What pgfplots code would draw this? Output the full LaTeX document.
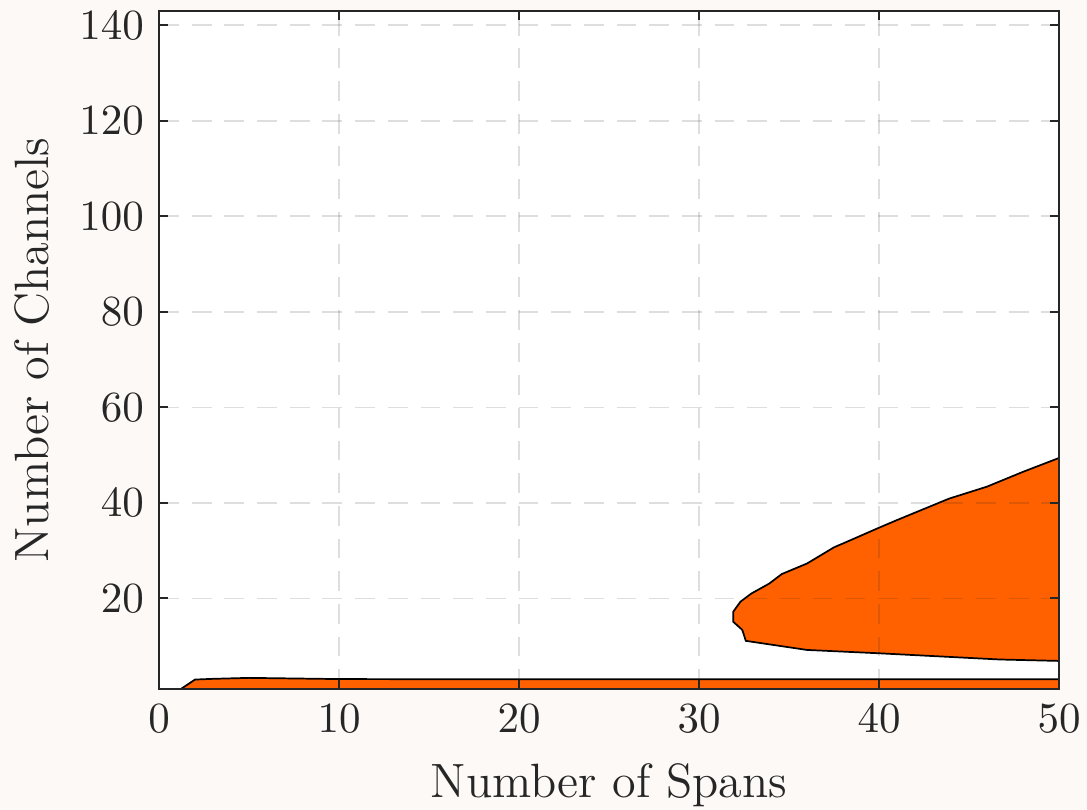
\documentclass[border=0pt]{standalone}
\usepackage{pgfplots}
\pgfplotsset{compat=1.18}
\definecolor{bg}{RGB}{253,249,247}
\definecolor{txt}{RGB}{38,38,38}
\definecolor{org}{RGB}{255,96,0}
\begin{document}
\begin{tikzpicture}
\fill[bg] (-37pt,-28.1pt) rectangle (215.8pt,160.26pt);
\begin{axis}[
  scale only axis, width=209.3pt, height=157.7pt,
  xmin=0, xmax=50, ymin=1, ymax=143,
  xtick={0,10,...,50}, ytick={20,40,...,140},
  axis on top,
  axis background/.style={fill=white},
  axis line style={color=txt, line width=0.5pt},
  tick style={color=txt, line width=0.5pt},
  tick align=inside,
  major tick length=2.1pt,
  grid=major,
  major grid style={dash pattern=on 4.6pt off 3pt, color=txt, opacity=0.15, line width=0.4pt},
  every tick label/.append style={font=\fontsize{10}{12}\selectfont, text=txt},
  label style={font=\fontsize{11.2}{13}\selectfont, text=txt},
  xlabel={Number of Spans},
  ylabel={Number of Channels},
  xlabel style={yshift=-0.4pt},
]
\addplot[fill=org, draw=black, line width=0.4pt] coordinates {
  (1.2,1) (2,3.0) (3,3.15) (5,3.35) (8,3.2) (10,3.1) (20,3.05) (50,3.05) (50,1)
} -- cycle;
\addplot[fill=org, draw=black, line width=0.4pt] coordinates {
  (50,49.4) (48,46.5) (46,43.4) (43.9,40.9) (41.9,37.8) (41,36.4) (40,34.8)
  (38,31.5) (37.5,30.7) (36,27.3) (34.6,25.1) (33.9,23.1) (32.9,21.0)
  (32.3,19.3) (31.9,17.2) (31.9,15.1) (32.4,13.4) (32.6,11.1) (36,9.2)
  (40,8.5) (46.7,7.2) (50,6.9)
} -- cycle;
\end{axis}
\pgfresetboundingbox
\useasboundingbox (-37pt,-28.1pt) rectangle (215.8pt,160.26pt);
\end{tikzpicture}
\end{document}
